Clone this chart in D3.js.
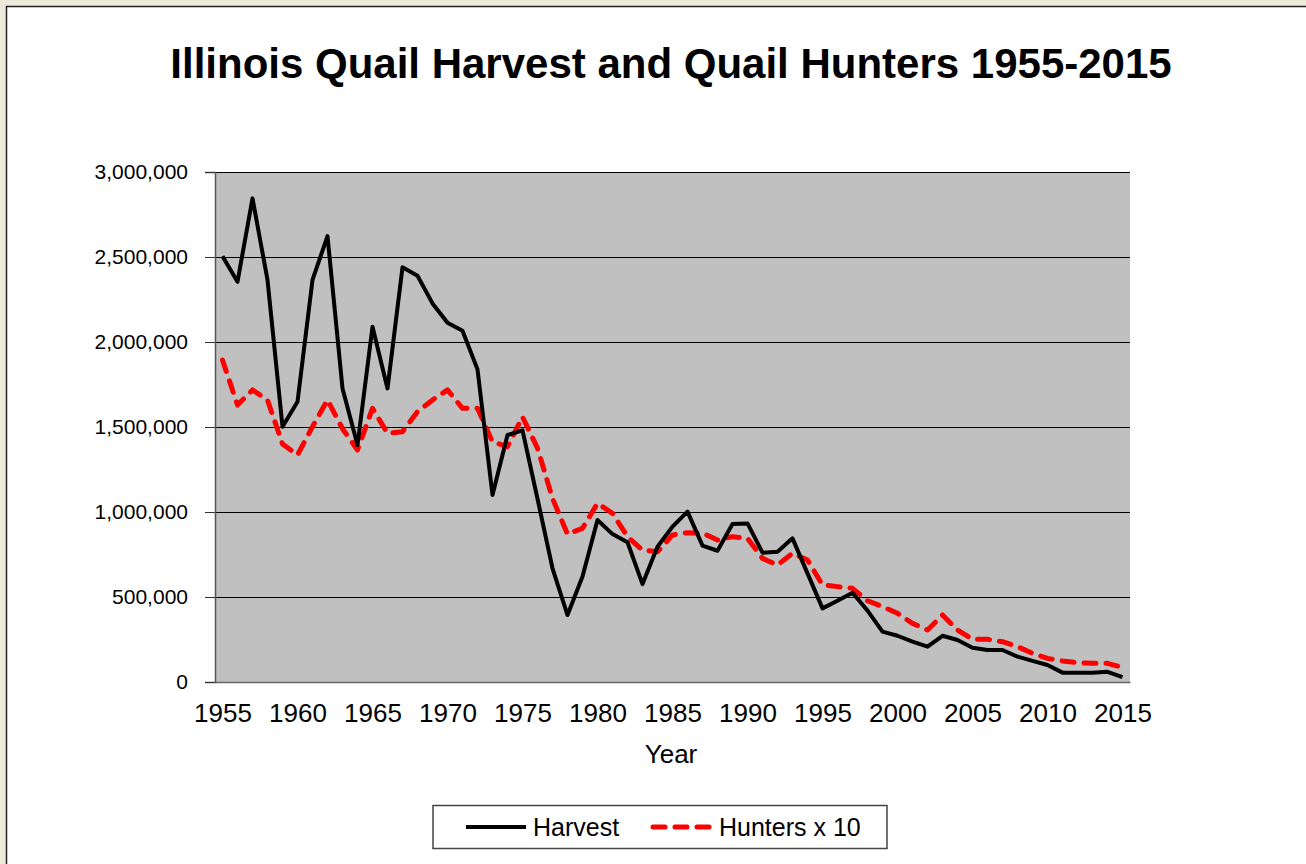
<!DOCTYPE html>
<html>
<head>
<meta charset="utf-8">
<script src="https://cdn.jsdelivr.net/npm/d3@7"></script>
<style>
  html, body { margin: 0; padding: 0; background: #ECE9D8; overflow: hidden; }
  text { font-family: "Liberation Sans", Arial, sans-serif; }
</style>
</head>
<body>
<div id="content"></div>
<script>
// Data-set, one value per year.
var years = d3.range(1955, 2016);

var harvest = [
  2505000, 2354000, 2845000, 2365000, 1502000, 1649000, 2365000, 2623000, 1727000, 1394000,
  2090000, 1727000, 2439000, 2390000, 2227000, 2113000, 2066000, 1839000, 1100000, 1453000,
  1480000, 1078000, 669000, 394000, 620000, 953000, 870000, 822000, 576000, 796000,
  914000, 1002000, 802000, 772000, 929000, 933000, 761000, 766000, 845000, 639000,
  433000, 478000, 525000, 420000, 296000, 272000, 237000, 208000, 272000, 247000,
  202000, 188000, 188000, 149000, 124000, 100000, 55000, 55000, 55000, 60000,
  28000
];

var huntersX10 = [
  1894000, 1629000, 1718000, 1659000, 1400000, 1335000, 1502000, 1659000, 1490000, 1365000,
  1610000, 1463000, 1472000, 1590000, 1659000, 1718000, 1610000, 1610000, 1413000, 1384000,
  1560000, 1376000, 1080000, 870000, 904000, 1051000, 992000, 855000, 776000, 766000,
  865000, 878000, 876000, 835000, 855000, 845000, 727000, 688000, 757000, 718000,
  571000, 561000, 551000, 478000, 443000, 404000, 345000, 306000, 394000, 306000,
  251000, 251000, 237000, 208000, 169000, 139000, 124000, 114000, 110000, 110000,
  86000
];

var yTicks = [0, 500000, 1000000, 1500000, 2000000, 2500000, 3000000];
var xTickYears = d3.range(1955, 2016, 5);

// Main SVG container, window sized.
var svg = d3.select('#content')
  .append('svg')
  .attr('width', 1306)
  .attr('height', 864);

// White chart sheet with a dark edge on top and left.
svg.append('rect')
  .attr('x', 6.5).attr('y', 6.5)
  .attr('width', 1340).attr('height', 900)
  .attr('fill', '#fff')
  .attr('stroke', '#222')
  .attr('stroke-width', 1.5);

// Plot area.
var plot = {left: 215, right: 1130, top: 172, bottom: 682};

var x = d3.scalePoint()
  .domain(years)
  .range([plot.left, plot.right])
  .padding(0.5);

var y = d3.scaleLinear()
  .domain([0, 3000000])
  .range([plot.bottom, plot.top]);

svg.append('rect')
  .attr('x', plot.left).attr('y', plot.top)
  .attr('width', plot.right - plot.left)
  .attr('height', plot.bottom - plot.top)
  .attr('fill', '#C0C0C0');

// Gridlines.
svg.append('g')
  .selectAll('line')
  .data(yTicks.slice(1))
  .enter()
  .append('line')
  .attr('x1', plot.left).attr('x2', plot.right)
  .attr('y1', function(d) { return y(d) + 0.5; })
  .attr('y2', function(d) { return y(d) + 0.5; })
  .attr('stroke', '#000')
  .attr('stroke-width', 1);

// Y axis.
var yAxis = svg.append('g')
  .attr('transform', 'translate(' + plot.left + ',0)')
  .call(d3.axisLeft(y).tickValues(yTicks).tickSize(10).tickPadding(17)
    .tickFormat(d3.format(',')));
yAxis.select('.domain').attr('stroke', '#555').attr('stroke-width', 1.5);
yAxis.selectAll('.tick line').attr('stroke', '#333');
yAxis.selectAll('.tick text')
  .attr('font-size', 21)
  .attr('fill', '#000')
  .attr('font-family', '"Liberation Sans", Arial, sans-serif');

// X axis, category labels every 5 years.
var xAxis = svg.append('g')
  .attr('transform', 'translate(0,' + plot.bottom + ')')
  .call(d3.axisBottom(x).tickValues(xTickYears).tickSize(0).tickPadding(22));
xAxis.select('.domain').attr('stroke', '#666').attr('stroke-width', 1.5);
xAxis.selectAll('.tick text')
  .attr('font-size', 26)
  .attr('fill', '#000')
  .attr('font-family', '"Liberation Sans", Arial, sans-serif');

// Series lines.
var line = function(values) {
  return d3.line()
    .x(function(d, i) { return x(years[i]); })
    .y(function(d) { return y(d); })(values);
};

svg.append('path')
  .attr('d', line(huntersX10))
  .attr('fill', 'none')
  .attr('stroke', '#FF0000')
  .attr('stroke-width', 5)
  .attr('stroke-dasharray', '12,10')
  .attr('stroke-linecap', 'round')
  .attr('stroke-linejoin', 'round');

svg.append('path')
  .attr('d', line(harvest))
  .attr('fill', 'none')
  .attr('stroke', '#000')
  .attr('stroke-width', 4)
  .attr('stroke-linejoin', 'round');

// Title and axis title.
svg.append('text')
  .attr('x', 671).attr('y', 78)
  .attr('text-anchor', 'middle')
  .attr('font-size', 42)
  .attr('font-weight', 'bold')
  .text('Illinois Quail Harvest and Quail Hunters 1955-2015');

svg.append('text')
  .attr('x', 671).attr('y', 763)
  .attr('text-anchor', 'middle')
  .attr('font-size', 26)
  .text('Year');

// Legend.
var legend = svg.append('g');
legend.append('rect')
  .attr('x', 433).attr('y', 805.5)
  .attr('width', 454).attr('height', 43)
  .attr('fill', '#fff')
  .attr('stroke', '#444')
  .attr('stroke-width', 1.5);
legend.append('line')
  .attr('x1', 466).attr('x2', 526)
  .attr('y1', 827).attr('y2', 827)
  .attr('stroke', '#000').attr('stroke-width', 4);
legend.append('text')
  .attr('x', 533).attr('y', 836)
  .attr('font-size', 25)
  .text('Harvest');
legend.append('line')
  .attr('x1', 653).attr('x2', 710)
  .attr('y1', 827).attr('y2', 827)
  .attr('stroke', '#FF0000').attr('stroke-width', 5)
  .attr('stroke-dasharray', '12,10')
  .attr('stroke-linecap', 'round');
legend.append('text')
  .attr('x', 719).attr('y', 836)
  .attr('font-size', 25)
  .text('Hunters x 10');
</script>
</body>
</html>
